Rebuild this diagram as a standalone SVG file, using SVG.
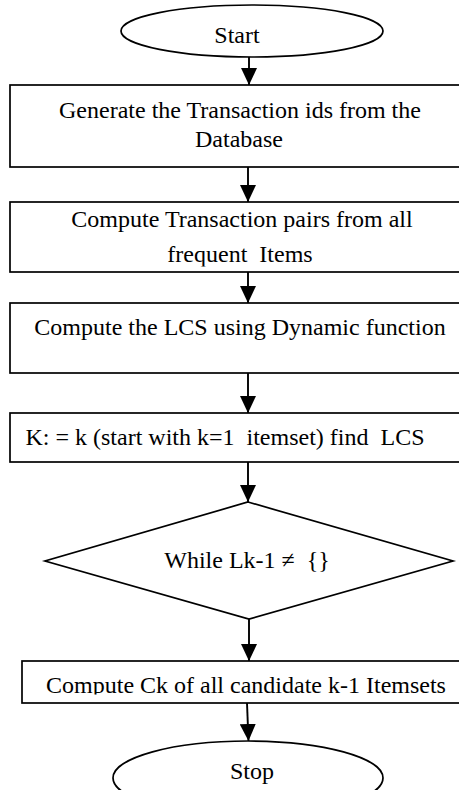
<svg xmlns="http://www.w3.org/2000/svg" width="459" height="790" viewBox="0 0 459 790">
<style>
.shape{fill:#fff;stroke:#000;stroke-width:1.7}
.lbl{font-family:"Liberation Serif","Times New Roman",serif;font-size:24px;fill:#000;text-anchor:middle;white-space:pre}
.conn{stroke:#000;stroke-width:1.9;fill:none}
</style>
<defs>
<marker id="ah" markerUnits="userSpaceOnUse" markerWidth="17" markerHeight="16" refX="17" refY="8" orient="auto">
<path d="M0,0 L17,8 L0,16 z" fill="#000"/>
</marker>
<clipPath id="c2"><rect x="10" y="202" width="460" height="64.5"/></clipPath>
<clipPath id="c5"><rect x="22" y="661" width="460" height="33.5"/></clipPath>
</defs>
<rect width="459" height="790" fill="#fff"/>
<g id="connectors">
<line class="conn" x1="249" y1="57" x2="249" y2="85" marker-end="url(#ah)"/>
<line class="conn" x1="248" y1="167" x2="248" y2="202" marker-end="url(#ah)"/>
<line class="conn" x1="248" y1="272" x2="248" y2="303" marker-end="url(#ah)"/>
<line class="conn" x1="248" y1="373" x2="248" y2="413" marker-end="url(#ah)"/>
<line class="conn" x1="248" y1="462" x2="248" y2="502" marker-end="url(#ah)"/>
<line class="conn" x1="249" y1="619" x2="249" y2="661" marker-end="url(#ah)"/>
<line class="conn" x1="247" y1="703" x2="248.5" y2="741" marker-end="url(#ah)"/>
</g>
<g id="start">
<ellipse class="shape" cx="252" cy="31" rx="131" ry="26"/>
<text class="lbl" x="237" y="43">Start</text>
</g>
<g id="generate">
<rect class="shape" x="10" y="85" width="460" height="82"/>
<text class="lbl" x="240" y="118">Generate the Transaction ids from the</text>
<text class="lbl" x="239" y="147">Database</text>
</g>
<g id="pairs">
<rect class="shape" x="10" y="202" width="460" height="70"/>
<g clip-path="url(#c2)">
<text class="lbl" x="242" y="227">Compute Transaction pairs from all</text>
<text class="lbl" x="240" y="262" xml:space="preserve">frequent  Items</text>
</g>
</g>
<g id="lcs">
<rect class="shape" x="10" y="303" width="460" height="70"/>
<text class="lbl" x="240" y="335">Compute the LCS using Dynamic function</text>
</g>
<g id="kset">
<rect class="shape" x="10" y="413" width="460" height="49"/>
<text class="lbl" x="225" y="445" xml:space="preserve">K: = k (start with k=1  itemset) find  LCS</text>
</g>
<g id="while">
<polygon class="shape" points="248,502 453,561 249,619 45,561"/>
<text class="lbl" x="247" y="568" xml:space="preserve">While Lk-1 ≠  {}</text>
</g>
<g id="candidates">
<rect class="shape" x="22" y="661" width="460" height="42"/>
<g clip-path="url(#c5)">
<text class="lbl" x="246" y="693">Compute Ck of all candidate k-1 Itemsets</text>
</g>
</g>
<g id="stop">
<ellipse class="shape" cx="248" cy="778" rx="135" ry="37"/>
<text class="lbl" x="252" y="779">Stop</text>
</g>
</svg>
